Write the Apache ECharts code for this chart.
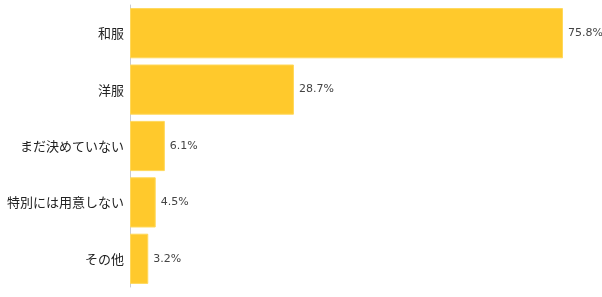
<!DOCTYPE html>
<html>
<head>
<meta charset="utf-8">
<script src="https://cdn.jsdelivr.net/npm/echarts@6/dist/echarts.min.js"></script>
<style>
  html, body { margin: 0; padding: 0; background: #fff; }
  #chart { width: 602px; height: 297px; }
</style>
</head>
<body>
<div id="chart"></div>
<script>
// 準備する衣装の種類（％）
const categories = ['和服', '洋服', 'まだ決めていない', '特別には用意しない', 'その他'];
const values = [75.8, 28.7, 6.1, 4.5, 3.2];

const chart = echarts.init(document.getElementById('chart'), null, { renderer: 'canvas' });

chart.setOption({
  animation: false,
  backgroundColor: '#ffffff',
  grid: { left: 130, right: 15, top: 5, bottom: 10, containLabel: false },
  xAxis: {
    type: 'value',
    min: 0,
    max: 80,
    show: false
  },
  yAxis: {
    type: 'category',
    data: categories,
    inverse: true,
    axisLine: { show: true, lineStyle: { color: '#c8ccd4', width: 1 } },
    axisTick: { show: false },
    axisLabel: {
      color: '#222222',
      fontSize: 13,
      fontFamily: '"Noto Sans CJK JP", sans-serif',
      margin: 6
    }
  },
  series: [{
    type: 'bar',
    data: values,
    barCategoryGap: '11%',
    itemStyle: { color: '#FFC92C', borderColor: '#FFD85A', borderWidth: 1 },
    label: {
      show: true,
      position: 'right',
      distance: 5,
      formatter: p => p.value.toFixed(1) + '%',
      color: '#444444',
      fontSize: 11,
      fontFamily: '"DejaVu Sans", Verdana, sans-serif'
    }
  }]
});
</script>
</body>
</html>
